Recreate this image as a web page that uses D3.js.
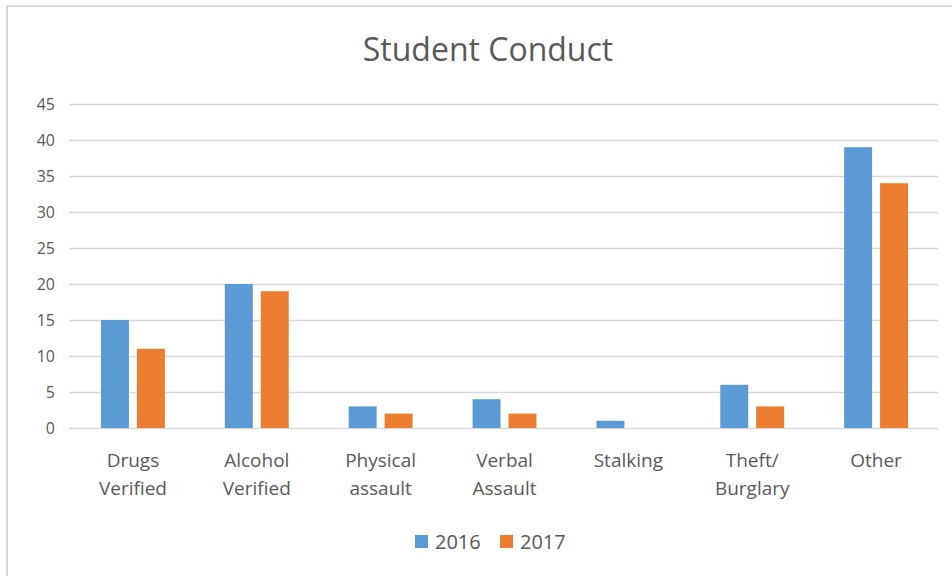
<!DOCTYPE html>
<html>
<head>
<meta charset="utf-8">
<script src="https://cdn.jsdelivr.net/npm/d3@7"></script>
<style>
    body { margin: 0; background: #fff; }
    text { font-family: "Open Sans", "Noto Sans", sans-serif; fill: #595959; }
</style>
</head>
<body>
<div id="chart"></div>
<script>
// Chart data
const categories = [
    ["Drugs", "Verified"],
    ["Alcohol", "Verified"],
    ["Physical", "assault"],
    ["Verbal", "Assault"],
    ["Stalking"],
    ["Theft/", "Burglary"],
    ["Other"]
];
const seriesNames = ["2016", "2017"];
const values2016 = [15, 20, 3, 4, 1, 6, 39];
const values2017 = [11, 19, 2, 2, 0, 3, 34];
const yTicks = [0, 5, 10, 15, 20, 25, 30, 35, 40, 45];
const colors = ["#5b9bd5", "#ed7d31"];

const W = 952, H = 576;
const margin = { top: 104, right: 14, bottom: 148, left: 69 };
const width = W - margin.left - margin.right;
const height = H - margin.top - margin.bottom;

const root = d3.select("#chart")
    .append("svg")
    .attr("width", W)
    .attr("height", H);

// Light frame (only left and top edges show)
root.append("rect")
    .attr("x", 7)
    .attr("y", 6)
    .attr("width", W + 10)
    .attr("height", H + 10)
    .attr("fill", "none")
    .attr("stroke", "#d9d9d9")
    .attr("stroke-width", 2);

// Title
root.append("text")
    .attr("x", 488)
    .attr("y", 61)
    .attr("text-anchor", "middle")
    .style("font-size", "32px")
    .text("Student Conduct");

const svg = root.append("g")
    .attr("transform", `translate(${margin.left},${margin.top})`);

const idx = categories.map((d, i) => i);

const x0 = d3.scaleBand()
    .domain(idx)
    .range([2, width])
    .paddingInner(0.484)
    .paddingOuter(0.242);

const x1 = d3.scaleBand()
    .domain(seriesNames)
    .range([0, x0.bandwidth()])
    .paddingInner(0.222);

const y = d3.scaleLinear()
    .domain([0, 45])
    .range([height, 0]);

// Gridlines
svg.append("g")
    .attr("class", "grid")
    .call(d3.axisLeft(y).tickValues(yTicks).tickSize(-width).tickFormat(""))
    .call(g => g.select(".domain").remove())
    .call(g => g.selectAll("line").attr("stroke", "#d9d9d9").attr("stroke-width", 1.5));

// Y axis labels
svg.append("g")
    .call(d3.axisLeft(y).tickValues(yTicks).tickSize(0).tickPadding(14))
    .call(g => g.select(".domain").remove())
    .call(g => g.selectAll("text").style("font-size", "16px").attr("fill", "#595959"));

// Bars
const rows = idx.map(i => ({ i, vals: [values2016[i], values2017[i]] }));

const groups = svg.selectAll(".group")
    .data(rows)
    .enter().append("g")
    .attr("class", "group")
    .attr("transform", d => `translate(${x0(d.i)},0)`);

groups.selectAll("rect")
    .data(d => d.vals.map((v, k) => ({ name: seriesNames[k], v, k })))
    .enter().append("rect")
    .attr("x", d => x1(d.name))
    .attr("y", d => y(d.v))
    .attr("width", x1.bandwidth())
    .attr("height", d => height - y(d.v))
    .attr("fill", d => colors[d.k]);

// Category labels
const xLabels = svg.append("g")
    .attr("transform", `translate(0,${height})`);

xLabels.selectAll("text")
    .data(rows)
    .enter().append("text")
    .attr("x", d => x0(d.i) + x0.bandwidth() / 2)
    .attr("y", 39)
    .attr("text-anchor", "middle")
    .style("font-size", "19px")
    .each(function (d) {
        categories[d.i].forEach((line, j) => {
            d3.select(this).append("tspan")
                .attr("x", x0(d.i) + x0.bandwidth() / 2)
                .attr("dy", j === 0 ? 0 : 28)
                .text(line);
        });
    });

// Legend
const legendX = [415, 500];
const legend = root.append("g");
seriesNames.forEach((name, k) => {
    legend.append("rect")
        .attr("x", legendX[k])
        .attr("y", 535)
        .attr("width", 13)
        .attr("height", 13)
        .attr("fill", colors[k]);
    legend.append("text")
        .attr("x", legendX[k] + 20)
        .attr("y", 549)
        .style("font-size", "20px")
        .text(name);
});
</script>
</body>
</html>
